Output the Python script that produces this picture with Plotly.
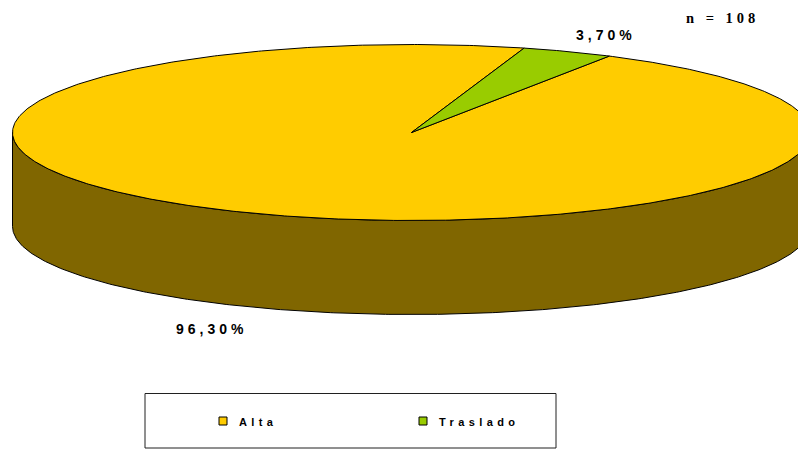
import math
import plotly.graph_objects as go

# ---- data ----
categories = ["Alta", "Traslado"]
percentages = [96.30, 3.70]
colors = ["#FFCC00", "#99CC00"]
sample_note = "n = 108"

# ---- drawing geometry (pixel space of an 798x450 canvas) ----
W, H = 798, 450
CX, CY = 411.5, 132.5       # centre of the top face
RX, RY = 399.0, 88.0        # radii of the top ellipse
DEPTH = 94.0                # thickness of the pie
START = 73.6                # angle (deg, CCW from 3 o'clock) where the first slice begins
EDGE = "#000000"


def darken(hex_color, f=0.5):
    h = hex_color.lstrip("#")
    r, g, b = (int(h[i:i + 2], 16) for i in (0, 2, 4))
    return "#%02X%02X%02X" % (round(r * f), round(g * f), round(b * f))


def pt(t_deg, dz=0.0):
    t = math.radians(t_deg)
    return CX + RX * math.cos(t), CY - RY * math.sin(t) + dz


def arc(a0, a1, dz=0.0, step=0.5):
    n = max(2, int(abs(a1 - a0) / step) + 1)
    xs, ys = [], []
    for i in range(n + 1):
        x, y = pt(a0 + (a1 - a0) * i / n, dz)
        xs.append(x)
        ys.append(y)
    return xs, ys


fig = go.Figure()

# slice angular ranges from the values
total = sum(percentages)
ranges = []
a = START
for v in percentages:
    span = 360.0 * v / total
    ranges.append((a, a + span))
    a += span

# side walls: only the front half (180..360 deg) is visible
for (a0, a1), c in zip(ranges, colors):
    for k in range(-1, 3):
        lo = max(a0, 180 + 360 * k)
        hi = min(a1, 360 + 360 * k)
        if hi > lo:
            tx, ty = arc(lo, hi)
            bx, by = arc(hi, lo, DEPTH)
            fig.add_trace(go.Scatter(
                x=tx + bx + [tx[0]], y=ty + by + [ty[0]],
                mode="lines", fill="toself", fillcolor=darken(c),
                line=dict(color=EDGE, width=1), hoverinfo="skip", showlegend=False))

# top faces
for (a0, a1), c in zip(ranges, colors):
    ax, ay = arc(a0, a1)
    fig.add_trace(go.Scatter(
        x=[CX] + ax + [CX], y=[CY] + ay + [CY],
        mode="lines", fill="toself", fillcolor=c,
        line=dict(color=EDGE, width=1), hoverinfo="skip", showlegend=False))

# value labels placed outside each slice
label_offsets = [(-44, 21.5), (38, -17)]
for (a0, a1), v, (ox, oy) in zip(ranges, percentages, label_offsets):
    mid = (a0 + a1) / 2
    x, y = pt(mid, DEPTH if math.sin(math.radians(mid)) < 0 else 0)
    txt = f"{v:.2f}".replace(".", ",") + "%"
    fig.add_annotation(
        x=x + ox, y=y + oy, xref="x", yref="y", showarrow=False,
        text=f'<span style="letter-spacing:4px">{txt}</span>',
        font=dict(family="Liberation Sans", size=14, color="#000000"),
        xanchor="center", yanchor="middle")

fig.add_annotation(
    x=722, y=18, xref="x", yref="y", showarrow=False,
    text=f'<b><span style="letter-spacing:4px">{sample_note}</span></b>',
    font=dict(family="Liberation Serif", size=14.5, color="#000000"),
    xanchor="center", yanchor="middle")

# legend box
fig.add_shape(type="rect", xref="x", yref="y", x0=145, y0=393.5, x1=556, y1=448,
              line=dict(color="#202020", width=1), fillcolor="rgba(0,0,0,0)")
legend_x = [223, 423]
for name, c, lx in zip(categories, colors, legend_x):
    fig.add_trace(go.Scatter(
        x=[lx], y=[421], mode="markers",
        marker=dict(symbol="square", size=8, color=c, line=dict(color=EDGE, width=1)),
        hoverinfo="skip", showlegend=False))
    fig.add_annotation(
        x=lx + 14, y=422, xref="x", yref="y", showarrow=False,
        text=f'<b><span style="letter-spacing:4.4px">{name}</span></b>',
        font=dict(family="Liberation Sans", size=11, color="#000000"),
        xanchor="left", yanchor="middle")

fig.update_annotations(font_weight="bold")

fig.update_layout(
    width=W, height=H, margin=dict(l=0, r=0, t=0, b=0),
    paper_bgcolor="#FFFFFF", plot_bgcolor="#FFFFFF",
    xaxis=dict(range=[0, W], visible=False, fixedrange=True),
    yaxis=dict(range=[H, 0], visible=False, fixedrange=True),
    showlegend=False,
)

fig.write_html("out.html")
